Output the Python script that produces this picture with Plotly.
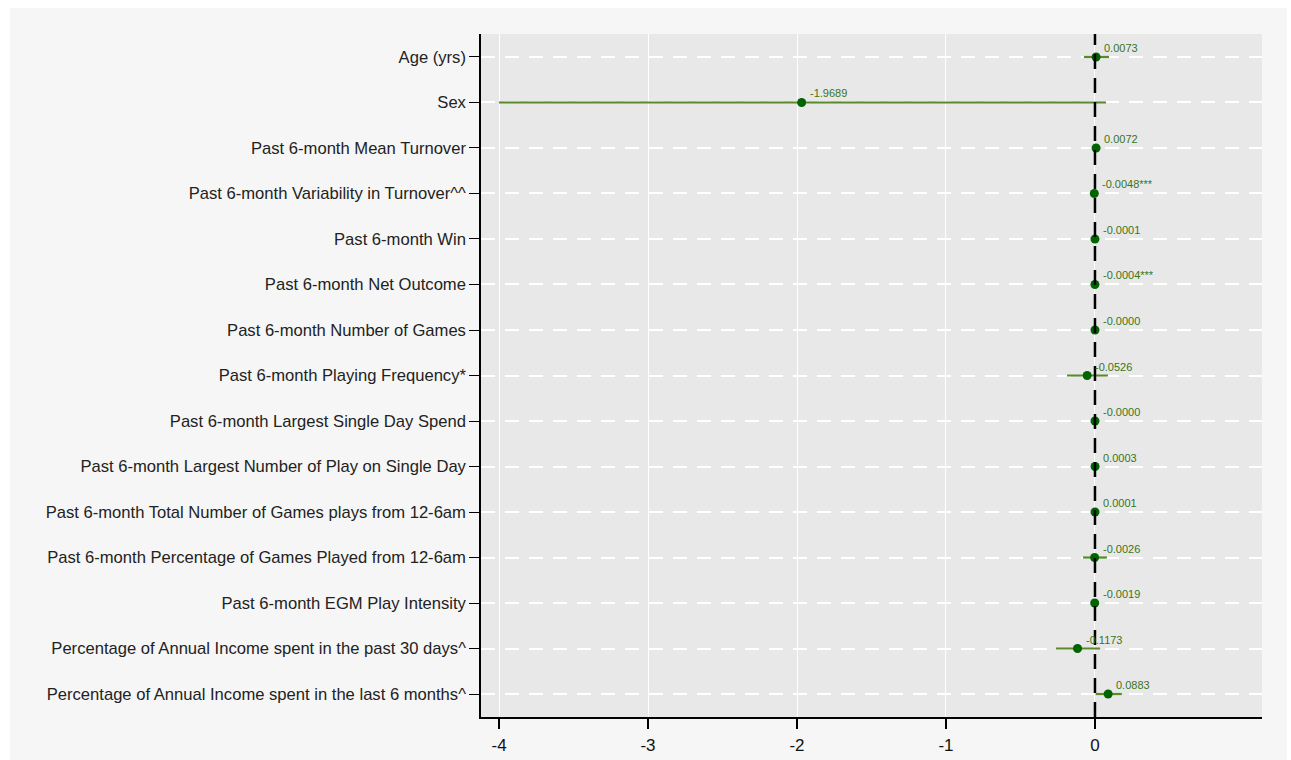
import plotly.graph_objects as go

categories = [
    "Age (yrs)",
    "Sex",
    "Past 6-month Mean Turnover",
    "Past 6-month Variability in Turnover^^",
    "Past 6-month Win",
    "Past 6-month Net Outcome",
    "Past 6-month Number of Games",
    "Past 6-month Playing Frequency*",
    "Past 6-month Largest Single Day Spend",
    "Past 6-month Largest Number of Play on Single Day",
    "Past 6-month Total Number of Games plays from 12-6am",
    "Past 6-month Percentage of Games Played from 12-6am",
    "Past 6-month EGM Play Intensity",
    "Percentage of Annual Income spent in the past 30 days^",
    "Percentage of Annual Income spent in the last 6 months^",
]
estimates = [0.0073, -1.9689, 0.0072, -0.0048, -0.0001, -0.0004, -0.0000, -0.0526,
             -0.0000, 0.0003, 0.0001, -0.0026, -0.0019, -0.1173, 0.0883]
ci_low = [-0.074, -4.0, 0.0052, -0.0068, -0.0011, -0.0006, -0.0001, -0.188,
          -0.0001, -0.0007, -0.0009, -0.08, -0.0039, -0.262, 0.005]
ci_high = [0.094, 0.074, 0.0092, -0.0028, 0.0009, -0.0002, 0.0001, 0.087,
           0.0001, 0.0013, 0.0011, 0.08, 0.0001, 0.034, 0.18]
labels = ["0.0073", "-1.9689", "0.0072", "-0.0048***", "-0.0001", "-0.0004***",
          "-0.0000", "-0.0526", "-0.0000", "0.0003", "0.0001", "-0.0026",
          "-0.0019", "-0.1173", "0.0883"]
x_ticks = [-4, -3, -2, -1, 0]

err_plus = [h - e for h, e in zip(ci_high, estimates)]
err_minus = [e - l for e, l in zip(estimates, ci_low)]

fig = go.Figure()
fig.add_trace(go.Scatter(
    x=estimates, y=categories, mode="markers",
    marker=dict(color="#006400", size=9),
    error_x=dict(type="data", symmetric=False, array=err_plus, arrayminus=err_minus,
                 color="#5a8a2a", thickness=2.2, width=0),
    cliponaxis=False, showlegend=False,
))

for xv, yv, lab in zip(estimates, categories, labels):
    fig.add_annotation(
        x=xv, y=yv, text=lab, showarrow=False, xanchor="left", yanchor="middle",
        xshift=6, yshift=9,
        font=dict(family="Liberation Sans, Arial, sans-serif", size=11, color="#3a7418"),
    )

# panel background and plot area
fig.add_shape(type="rect", xref="paper", yref="paper", x0=-0.603, x1=1.032, y0=-0.07, y1=1.038,
              fillcolor="#f6f6f6", line_width=0, layer="below")
fig.add_shape(type="rect", xref="paper", yref="paper", x0=0, x1=1, y0=0, y1=1,
              fillcolor="#e8e8e8", line_width=0, layer="below")
# zero reference line
fig.add_shape(type="line", xref="x", yref="paper", x0=0, x1=0, y0=0, y1=1,
              line=dict(color="black", width=2.5, dash="15px,9px"), layer="above")

fig.update_layout(
    width=1291, height=760,
    margin=dict(l=481, r=29, t=34, b=43),
    paper_bgcolor="white", plot_bgcolor="rgba(0,0,0,0)",
    font=dict(family="Liberation Sans, Arial, sans-serif", color="#222"),
)
fig.update_xaxes(
    range=[-4.121, 1.121], tickvals=x_ticks, ticktext=[str(v) for v in x_ticks],
    showgrid=True, gridcolor="white", gridwidth=1,
    showline=True, linecolor="black", linewidth=1.5,
    ticks="outside", ticklen=10, tickcolor="black", tickwidth=1.5,
    tickfont=dict(size=17, color="#111"), zeroline=False, automargin=False,
    ticklabelstandoff=2,
)
fig.update_yaxes(
    type="category", categoryorder="array", categoryarray=categories,
    range=[14.505, -0.505],
    showgrid=True, gridcolor="white", gridwidth=1.5, griddash="14px,10px",
    showline=True, linecolor="black", linewidth=1.5,
    ticks="outside", ticklen=10, tickcolor="black", tickwidth=1.2,
    tickfont=dict(size=16.6, color="#222"), zeroline=False, automargin=False,
)

fig.write_html("out.html")
